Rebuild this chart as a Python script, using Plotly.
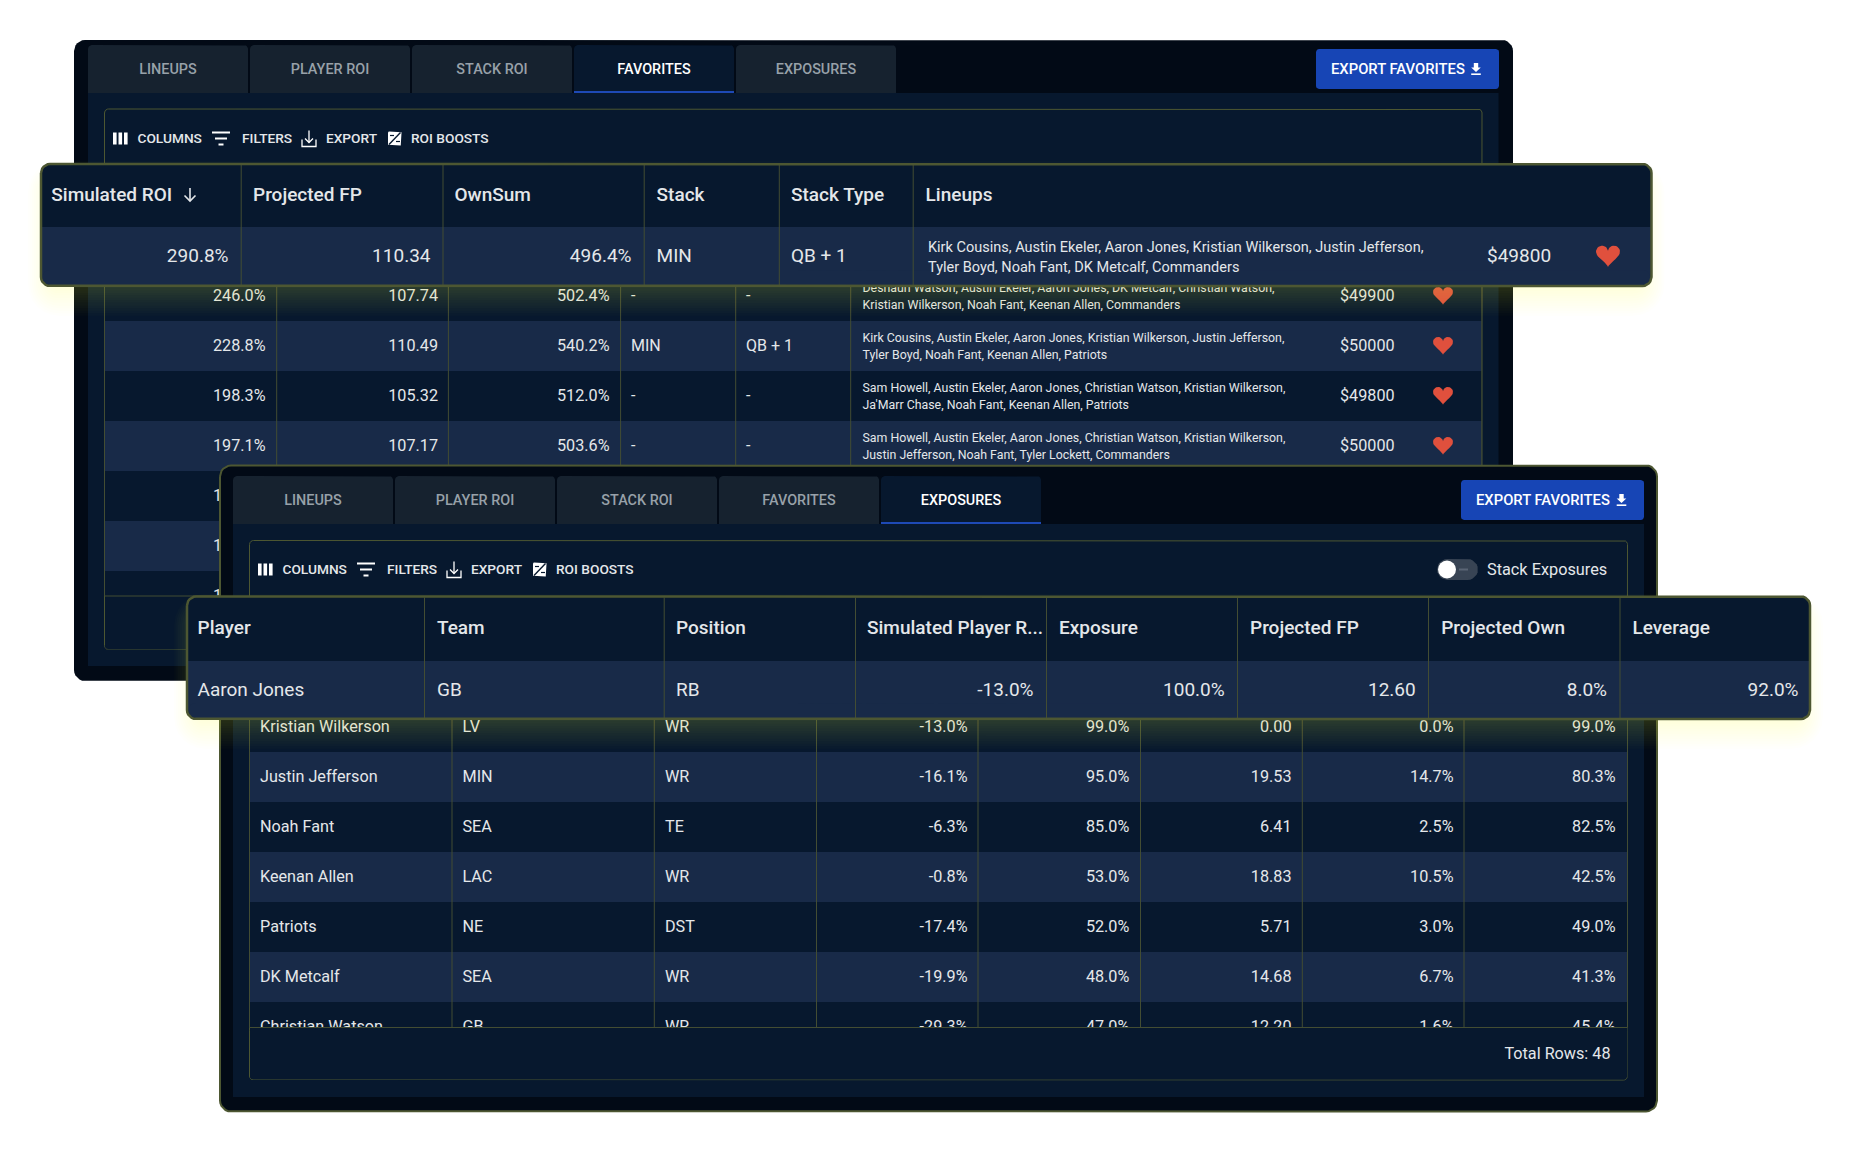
import numpy as np
import plotly.graph_objects as go

# lineup table (back panel)
tabs = ['LINEUPS', 'PLAYER ROI', 'STACK ROI', 'FAVORITES', 'EXPOSURES']
tools = ['COLUMNS', 'FILTERS', 'EXPORT', 'ROI BOOSTS']

fav_headers = ['Simulated ROI', 'Projected FP', 'OwnSum', 'Stack', 'Stack Type', 'Lineups']
fav_top_roi = 290.8
fav_top_fp = 110.34
fav_top_own = 496.4
fav_top_stack = 'MIN'
fav_top_type = 'QB + 1'
fav_top_lineup = ['Kirk Cousins, Austin Ekeler, Aaron Jones, Kristian Wilkerson, Justin Jefferson,',
                  'Tyler Boyd, Noah Fant, DK Metcalf, Commanders']
fav_top_salary = 49800

fav_roi = [246.0, 228.8, 198.3, 197.1, 196.4, 193.2, 190.5]
fav_fp = [107.74, 110.49, 105.32, 107.17]
fav_own = [502.4, 540.2, 512.0, 503.6]
fav_stack = ['-', 'MIN', '-', '-']
fav_type = ['-', 'QB + 1', '-', '-']
fav_lineup1 = ['Deshaun Watson, Austin Ekeler, Aaron Jones, DK Metcalf, Christian Watson,',
               'Kirk Cousins, Austin Ekeler, Aaron Jones, Kristian Wilkerson, Justin Jefferson,',
               'Sam Howell, Austin Ekeler, Aaron Jones, Christian Watson, Kristian Wilkerson,',
               'Sam Howell, Austin Ekeler, Aaron Jones, Christian Watson, Kristian Wilkerson,']
fav_lineup2 = ['Kristian Wilkerson, Noah Fant, Keenan Allen, Commanders',
               'Tyler Boyd, Noah Fant, Keenan Allen, Patriots',
               "Ja'Marr Chase, Noah Fant, Keenan Allen, Patriots",
               'Justin Jefferson, Noah Fant, Tyler Lockett, Commanders']
fav_salary = [49900, 50000, 49800, 50000]

# exposures table (front panel)
exp_headers = ['Player', 'Team', 'Position', 'Simulated Player R...', 'Exposure',
               'Projected FP', 'Projected Own', 'Leverage']
exp_top = ['Aaron Jones', 'GB', 'RB']
exp_top_vals = [-13.0, 100.0, 12.60, 8.0, 92.0]

exp_player = ['Kristian Wilkerson', 'Justin Jefferson', 'Noah Fant', 'Keenan Allen',
              'Patriots', 'DK Metcalf', 'Christian Watson']
exp_team = ['LV', 'MIN', 'SEA', 'LAC', 'NE', 'SEA', 'GB']
exp_pos = ['WR', 'WR', 'TE', 'WR', 'DST', 'WR', 'WR']
exp_roi = [-13.0, -16.1, -6.3, -0.8, -17.4, -19.9, -29.3]
exp_exposure = [99.0, 95.0, 85.0, 53.0, 52.0, 48.0, 47.0]
exp_fp = [0.00, 19.53, 6.41, 18.83, 5.71, 14.68, 12.20]
exp_own = [0.0, 14.7, 2.5, 10.5, 3.0, 6.7, 1.6]
exp_lev = [99.0, 80.3, 82.5, 42.5, 49.0, 41.3, 45.4]

# colours
BLACK = '#020a16'
NAVY = '#07182e'
STRIPE = '#182a48'
TAB = '#16222f'
OLIVE = '#4d5732'
GRID = '#434d33'
BLUE = '#1745b5'
RED = '#e0503d'
TXT = '#e4e7ea'
TAB_TXT = '#98a1a9'

FONT = 'Roboto'

fig = go.Figure()


def rrect(x0, x1, y0, y1, r=0, top_only=False):
    t = np.linspace(0, np.pi / 2, 7)
    if r == 0:
        return [x0, x1, x1, x0, x0], [y0, y0, y1, y1, y0]
    xs = list(x0 + r - r * np.cos(t)) + list(x1 - r + r * np.sin(t))
    ys = list(y0 + r - r * np.sin(t)) + list(y0 + r - r * np.cos(t))
    if top_only:
        xs += [x1, x0]
        ys += [y1, y1]
    else:
        xs += list(x1 - r + r * np.cos(t)) + list(x0 + r - r * np.sin(t))
        ys += list(y1 - r + r * np.sin(t)) + list(y1 - r + r * np.cos(t))
    return xs + [xs[0]], ys + [ys[0]]


def box(x0, x1, y0, y1, fill, r=0, line=None, lw=1, top_only=False):
    xs, ys = rrect(x0, x1, y0, y1, r, top_only)
    fig.add_trace(go.Scatter(x=xs, y=ys, mode='lines', fill='toself', fillcolor=fill,
                             line=dict(color=line or fill, width=lw if line else 0)))


def poly(xs, ys, fill):
    fig.add_trace(go.Scatter(x=xs, y=ys, mode='lines', fill='toself', fillcolor=fill,
                             line=dict(color=fill, width=0)))


def seg(xs, ys, color=TXT, w=1.0):
    fig.add_trace(go.Scatter(x=xs, y=ys, mode='lines', line=dict(color=color, width=w)))


def txt(x, y, s, size=16, color=TXT, pos='middle right', weight=400):
    # svg text sits a touch high against the reference, nudge it down
    fig.add_trace(go.Scatter(x=[x], y=[y + 1.1], text=[s], mode='text', textposition=pos,
                             textfont=dict(family=FONT, size=size, color=color, weight=weight)))


def glow(x0, x1, y0, y1):
    # box shadow, a pile of faint boxes, mostly showing under the box
    for i in range(12, 0, -1):
        d = i * 1.9
        box(x0 - d + 10, x1 + d - 10, y0 + 20 - d, y1 + d * 1.3, 'rgba(240,240,70,0.0145)', r=8 + d)


def heart(x, y, w, h):
    t = np.linspace(0, 2 * np.pi, 60)
    hx = np.sin(t) ** 3
    hy = -(13 * np.cos(t) - 5 * np.cos(2 * t) - 2 * np.cos(3 * t) - np.cos(4 * t))
    hy = (hy - hy.min()) / (hy.max() - hy.min()) - 0.5
    poly(x + hx * w / 2, y + hy * h, RED)


def download_icon(x, y):
    poly([x - 2.2, x + 2.2, x + 2.2, x + 4.8, x, x - 4.8, x - 2.2, x - 2.2],
         [y - 6, y - 6, y - 1.5, y - 1.5, y + 3, y - 1.5, y - 1.5, y - 6], '#ffffff')
    seg([x - 4.8, x + 4.8], [y + 5.2, y + 5.2], '#ffffff', 1.6)


def panel(x0, y0, active, tab_top, tab_bottom):
    tab_w, tab_gap = 160, 2
    for i, t in enumerate(tabs):
        tx = x0 + 14 + i * (tab_w + tab_gap)
        on = i == active
        box(tx, tx + tab_w, tab_top, tab_bottom, NAVY if on else TAB, r=4, top_only=True)
        txt(tx + tab_w / 2, (tab_top + tab_bottom) / 2, t, size=14.4,
            color='#ffffff' if on else TAB_TXT, pos='middle center', weight=500)
        if on:
            seg([tx, tx + tab_w], [tab_bottom - 1, tab_bottom - 1], '#1e49b5', 2)


def toolbar(x, y):
    # columns icon
    for dx in (0, 5.5, 11):
        box(x + dx, x + dx + 3.6, y - 6, y + 6, '#ffffff')
    txt(x + 24.5, y, tools[0], size=13.7, weight=500)
    for i, (dx, w) in enumerate(((99, 18), (102, 12), (105.5, 5))):
        seg([x + dx, x + dx + w], [y - 6 + i * 6] * 2, '#ffffff', 2)
    txt(x + 129, y, tools[1], size=13.7, weight=500)
    # export icon
    ix = x + 196
    seg([ix - 7, ix - 7, ix + 7, ix + 7], [y + 1, y + 8, y + 8, y + 1], '#ffffff', 1.3)
    seg([ix, ix], [y - 8, y + 4], '#ffffff', 1.3)
    seg([ix - 4, ix, ix + 4], [y, y + 4, y], '#ffffff', 1.3)
    txt(x + 213, y, tools[2], size=13.7, weight=500)
    # roi boost icon
    ix = x + 275
    box(ix, ix + 13.5, y - 7, y + 7, '#ffffff', r=1)
    seg([ix + 1, ix + 12.5], [y + 6, y - 6], NAVY, 1.4)
    seg([ix + 2, ix + 6], [y - 3, y - 3], NAVY, 1.2)
    seg([ix + 8, ix + 12], [y + 3, y + 3], NAVY, 1.2)
    txt(x + 298, y, tools[3], size=13.7, weight=500)


# ---- back panel ----
box(74, 1513, 40, 681, BLACK, r=11)
box(88, 1498.5, 93, 666, NAVY)
panel(74, 40, 3, 45, 93)
box(1316, 1499, 49, 89, BLUE, r=3)
txt(1331, 69, 'EXPORT FAVORITES', size=14.8, color='#ffffff', weight=500)
download_icon(1476, 69)
box(104.5, 1482, 109, 649.5, NAVY, r=4, line=OLIVE, lw=1)
toolbar(113, 138.5)

a_cols = [104.5, 276.7, 448.4, 620.6, 735.7, 850.7, 1482]
a_row_h = 50
a_top = 271
for i in range(len(fav_roi)):
    y0 = a_top + i * a_row_h
    y1 = min(y0 + a_row_h, 596)
    box(a_cols[0] + 0.5, a_cols[-1] - 0.5, y0, y1, STRIPE if i % 2 else NAVY)
for cx in a_cols:
    seg([cx, cx], [a_top, 596], GRID, 1)
for i, v in enumerate(fav_roi):
    txt(265.5, a_top + a_row_h * (i + 0.5), f'{v:.1f}%', size=16.2, pos='middle left')
for i in range(len(fav_fp)):
    yc = a_top + a_row_h * (i + 0.5)
    txt(438, yc, f'{fav_fp[i]:.2f}', size=16.2, pos='middle left')
    txt(609.5, yc, f'{fav_own[i]:.1f}%', size=16.2, pos='middle left')
    txt(631, yc, fav_stack[i], size=16)
    txt(746, yc, fav_type[i], size=16)
    txt(862.5, yc - 8.5, fav_lineup1[i], size=12.35)
    txt(862.5, yc + 8.5, fav_lineup2[i], size=12.35)
    txt(1340, yc, f'${fav_salary[i]}', size=16.2)
    heart(1443, yc, 20, 18)
box(105, 1481.5, 596, 649, NAVY, r=3)
seg([104.5, 1482], [596, 596], GRID, 1)

# ---- favorites overlay ----
fo_cols = [41, 241.2, 443, 644.2, 779.3, 913.2, 1651.5]
glow(41, 1651.5, 164, 286)
box(41, 1651.5, 164, 286, NAVY, r=9)
xs, ys = rrect(41, 1651.5, 164, 286, 9)
box(42, 1650.5, 227, 277, STRIPE)
box(42, 1650.5, 270, 285, STRIPE, r=8)
for cx in fo_cols[1:-1]:
    seg([cx, cx], [165, 285], GRID, 1)
fig.add_trace(go.Scatter(x=xs, y=ys, mode='lines', line=dict(color=OLIVE, width=2.5)))
for h, x in zip(fav_headers, [51.3, 253, 454.5, 656.6, 791, 925.6]):
    txt(x, 195.5, h, size=19, weight=500)
# sort arrow next to the first header
seg([190, 190], [188, 201], TXT, 1.6)
seg([184.5, 190, 195.5], [195.5, 201, 195.5], TXT, 1.6)
yc = 256.5
txt(228.5, yc, f'{fav_top_roi:.1f}%', size=19, pos='middle left')
txt(430.5, yc, f'{fav_top_fp:.2f}', size=19, pos='middle left')
txt(631.5, yc, f'{fav_top_own:.1f}%', size=19, pos='middle left')
txt(656.6, yc, fav_top_stack, size=19)
txt(791, yc, fav_top_type, size=19)
txt(928, 247, fav_top_lineup[0], size=14.5)
txt(928, 266.8, fav_top_lineup[1], size=14.5)
txt(1487, yc, f'${fav_top_salary}', size=19)
heart(1608, yc, 24, 21.5)

# ---- front panel ----
box(220, 1657, 465.5, 1111.5, BLACK, r=11, line=OLIVE, lw=2)
box(233, 1644, 524, 1097, NAVY)
panel(219, 465, 4, 476, 524)
box(1461, 1644, 480, 520, BLUE, r=3)
txt(1476, 500, 'EXPORT FAVORITES', size=14.8, color='#ffffff', weight=500)
download_icon(1621.5, 500)
box(249.5, 1627.5, 540.5, 1080, NAVY, r=4, line=OLIVE, lw=1)
toolbar(258, 569.5)
# stack exposures switch
box(1437, 1478, 559, 580, '#384454', r=10.5)
seg([1459, 1468], [569.5, 569.5], '#5a6575', 2)
fig.add_trace(go.Scatter(x=[1447], y=[569.5], mode='markers',
                         marker=dict(color='#ffffff', size=18, line=dict(width=0))))
txt(1487, 569.5, 'Stack Exposures', size=16.3)

b_cols = [249.5, 452, 654.3, 816.5, 978, 1140.5, 1302.3, 1464, 1627.5]
b_top = 702
b_row_h = 50
for i in range(len(exp_player)):
    y0 = b_top + i * b_row_h
    box(b_cols[0] + 0.5, b_cols[-1] - 0.5, y0, y0 + b_row_h, STRIPE if i % 2 else NAVY)
for cx in b_cols:
    seg([cx, cx], [b_top, 1027.5], GRID, 1)
for i in range(len(exp_player)):
    yc = b_top + b_row_h * (i + 0.5)
    txt(260, yc, exp_player[i], size=16.2)
    txt(462.5, yc, exp_team[i], size=16.2)
    txt(665, yc, exp_pos[i], size=16.2)
    txt(967.5, yc, f'{exp_roi[i]:.1f}%', size=16.2, pos='middle left')
    txt(1129.3, yc, f'{exp_exposure[i]:.1f}%', size=16.2, pos='middle left')
    txt(1291.5, yc, f'{exp_fp[i]:.2f}', size=16.2, pos='middle left')
    txt(1453.5, yc, f'{exp_own[i]:.1f}%', size=16.2, pos='middle left')
    txt(1615.5, yc, f'{exp_lev[i]:.1f}%', size=16.2, pos='middle left')
box(250, 1627, 1027.5, 1079.5, NAVY, r=3)
seg([249.5, 1627.5], [1027.5, 1027.5], GRID, 1)
txt(1610.5, 1053.5, 'Total Rows: 48', size=16.2, pos='middle left')

# ---- exposures overlay ----
eo_cols = [187, 424.5, 664.2, 855.5, 1046.5, 1237.5, 1428.5, 1620, 1810]
glow(187, 1810, 596.5, 719)
box(187, 1810, 596.5, 719, NAVY, r=9)
box(188, 1809, 661, 710, STRIPE)
box(188, 1809, 703, 718, STRIPE, r=8)
for cx in eo_cols[1:-1]:
    seg([cx, cx], [597.5, 718], GRID, 1)
xs, ys = rrect(187, 1810, 596.5, 719, 9)
fig.add_trace(go.Scatter(x=xs, y=ys, mode='lines', line=dict(color=OLIVE, width=2.5)))
for h, x in zip(exp_headers, [197.5, 437, 676, 867, 1059, 1250, 1441.2, 1632.5]):
    txt(x, 628.5, h, size=19, weight=500)
yc = 690.3
txt(197.5, yc, exp_top[0], size=19)
txt(437, yc, exp_top[1], size=19)
txt(676, yc, exp_top[2], size=19)
txt(1033.5, yc, f'{exp_top_vals[0]:.1f}%', size=19, pos='middle left')
txt(1224.7, yc, f'{exp_top_vals[1]:.1f}%', size=19, pos='middle left')
txt(1415.7, yc, f'{exp_top_vals[2]:.2f}', size=19, pos='middle left')
txt(1607, yc, f'{exp_top_vals[3]:.1f}%', size=19, pos='middle left')
txt(1798.5, yc, f'{exp_top_vals[4]:.1f}%', size=19, pos='middle left')

fig.update_layout(width=1851, height=1152, margin=dict(l=0, r=0, t=0, b=0),
                  paper_bgcolor='#ffffff', plot_bgcolor='#ffffff', showlegend=False,
                  hovermode=False)
fig.update_xaxes(range=[0, 1851], visible=False, fixedrange=True)
fig.update_yaxes(range=[1152, 0], visible=False, fixedrange=True)

fig.write_html('out.html', post_script="document.body.style.margin='0';",
               config=dict(displayModeBar=False))
